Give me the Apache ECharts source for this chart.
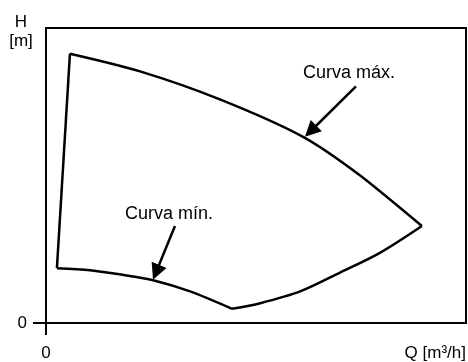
<!DOCTYPE html>
<html>
<head>
<meta charset="utf-8">
<script src="https://cdn.jsdelivr.net/npm/echarts@6/dist/echarts.min.js"></script>
<style>
  html, body { margin: 0; padding: 0; background: #fff; }
  #main { width: 468px; height: 362px; }
</style>
</head>
<body>
<div id="main"></div>
<script>
// curve points, x = Q (0..100), y = H (0..100)
const maxCurve = [[5.7, 91.3], [22.4, 85.3], [41.4, 75.8], [61.2, 63.1], [74.8, 50.0], [89.5, 32.9]];
const minCurveLeft = [[2.6, 18.6], [10.5, 17.9], [18.4, 16.3], [25.5, 14.5], [34.3, 10.7], [44.3, 4.8]];
const minCurveRight = [[44.3, 4.8], [51.0, 6.7], [60.5, 10.7], [70.0, 17.1], [79.5, 23.8], [89.5, 32.9]];
const leftEdge = [[5.7, 91.3], [2.6, 18.6]];

// annotations: label anchor, arrow tail, arrow head centre
const maxLabel = { name: 'Curva máx.', at: [61.2, 84.9], from: [73.8, 80.2], to: [63.0, 65.0] };
const minLabel = { name: 'Curva mín.', at: [18.8, 36.9], from: [30.7, 32.9], to: [26.2, 17.2] };

const axisTicks = [0];
const font = "'Liberation Sans', Arial, sans-serif";

const chart = echarts.init(document.getElementById('main'));

function curve(data, smooth) {
    return {
        type: 'line',
        data: data,
        smooth: smooth,
        symbol: 'none',
        silent: true,
        lineStyle: { color: '#000', width: 2.5 }
    };
}

function annotate(a) {
    return {
        markPoint: {
            symbol: 'circle',
            symbolSize: 0,
            label: {
                show: true, position: 'right', distance: 0,
                formatter: '{b}', color: '#000', fontSize: 18, fontFamily: font
            },
            data: [{ name: a.name, coord: a.at }]
        },
        markLine: {
            silent: true,
            symbol: ['none', 'triangle'],
            symbolSize: 16,
            label: { show: false },
            lineStyle: { color: '#000', width: 2.5, type: 'solid' },
            data: [[{ coord: a.from }, { coord: a.to }]]
        }
    };
}

const maxSeries = Object.assign(curve(maxCurve, 0.3), annotate(maxLabel));
const minSeries = Object.assign(curve(minCurveLeft, 0.3), annotate(minLabel));

chart.setOption({
    animation: false,
    grid: {
        left: 46, right: 2, top: 28, bottom: 36,
        show: true, borderColor: '#000', borderWidth: 2
    },
    xAxis: {
        type: 'value', min: 0, max: 100,
        axisLine: { show: true, lineStyle: { color: '#000', width: 2 } },
        axisTick: { show: true, customValues: axisTicks, length: 12, lineStyle: { color: '#000', width: 2 } },
        axisLabel: { customValues: axisTicks, margin: 22, color: '#000', fontSize: 17, fontFamily: font },
        splitLine: { show: false }
    },
    yAxis: {
        type: 'value', min: 0, max: 100,
        axisLine: { show: true, lineStyle: { color: '#000', width: 2 } },
        axisTick: { show: true, customValues: axisTicks, length: 13, lineStyle: { color: '#000', width: 2 } },
        axisLabel: { customValues: axisTicks, margin: 19, color: '#000', fontSize: 17, fontFamily: font },
        splitLine: { show: false }
    },
    graphic: [
        {
            type: 'text', x: 21, y: 13,
            style: { text: 'H\n[m]', align: 'center', fill: '#000', font: '17px ' + font, lineHeight: 19 }
        },
        {
            type: 'text', right: 2, bottom: 0,
            style: { text: 'Q [m³/h]', fill: '#000', font: '17px ' + font }
        }
    ],
    series: [
        maxSeries,
        minSeries,
        curve(minCurveRight, 0.3),
        curve(leftEdge, false)
    ]
});

window.addEventListener('resize', () => chart.resize());
</script>
</body>
</html>
